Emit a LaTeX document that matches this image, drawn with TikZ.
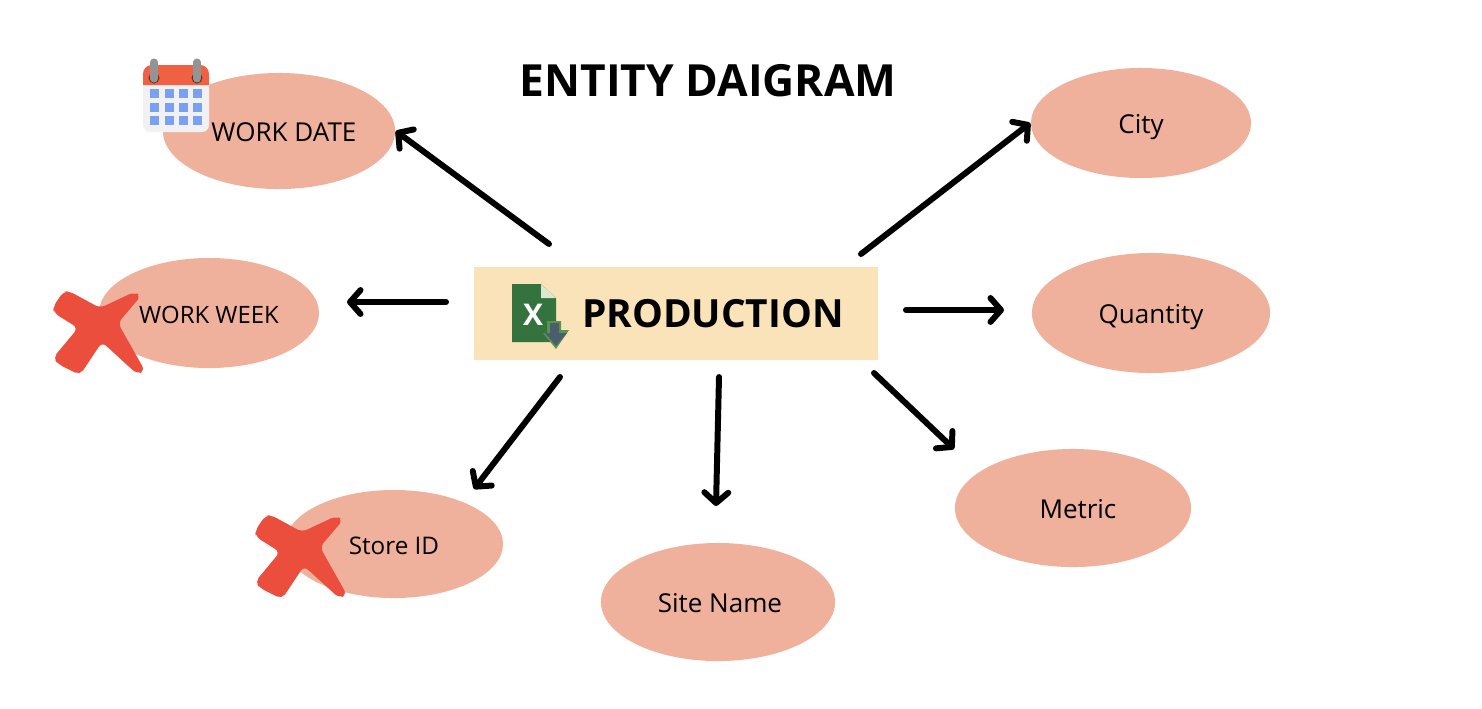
\documentclass[tikz,border=0pt]{standalone}
\usepackage{fontspec}
\setmainfont{Open Sans}
\usepackage{xcolor}
\usepackage{tikz}
\usetikzlibrary{shapes.geometric, arrows.meta}
\definecolor{mysalmon}{RGB}{239,177,155}
\definecolor{mycream}{RGB}{251,227,185}
\definecolor{myred}{RGB}{236,78,62}
\definecolor{calred}{RGB}{240,97,68}
\definecolor{calgrey}{RGB}{241,241,243}
\definecolor{calblue}{RGB}{122,160,240}
\definecolor{xlgreen}{RGB}{53,115,62}
\definecolor{xllight}{RGB}{220,232,205}
\definecolor{xledge}{RGB}{88,150,80}
\definecolor{xlslate}{RGB}{76,94,110}
\tikzset{
  entity/.style={ellipse, fill=mysalmon, inner sep=0pt, text height=5.8pt, text depth=0pt,
    font=\fontsize{7.4}{8.9}\selectfont},
  table/.style={rectangle, fill=mycream, inner sep=0pt, minimum width=4.04cm, minimum height=0.93cm,
    font=\fontsize{11.05}{13.3}\selectfont\bfseries},
  arrow/.style={-{Straight Barb[length=3pt, width=6.8pt, round]}, line width=1.7pt, line cap=round, color=black},
  cross/.pic={
    \fill[myred, rounded corners=1.6pt] (10,0) -- (0,15) -- (1,21) -- (25,36) -- (0,66) -- (5,72) -- (27,83)
      -- (49,50) -- (84,82) -- (92,79) -- (65,31) -- (88,4) -- (81,0) -- (47,16) -- (16,-1) -- cycle;
  }
}

\begin{document}
\begin{tikzpicture}[x=0.01cm, y=-0.01cm]
  \useasboundingbox (0,0) rectangle (1482,708);

  % Blocks
  \node[table] (production) at (676,313.5) {\hspace*{21pt}PRODUCTION};
  \node[entity, minimum width=2.32cm, minimum height=1.16cm] (workdate) at (279,131) {\hspace*{2.8pt}WORK DATE};
  \node[entity, minimum width=2.2cm, minimum height=1.1cm, font=\fontsize{6.8}{8.2}\selectfont] (workweek) at (209,313) {WORK WEEK};
  \node[entity, minimum width=2.18cm, minimum height=1.08cm, font=\fontsize{6.9}{8.3}\selectfont] (storeid) at (394,544) {Store ID};
  \node[entity, minimum width=2.34cm, minimum height=1.18cm] (sitename) at (718,602) {\hspace*{1.1pt}Site Name};
  \node[entity, minimum width=2.36cm, minimum height=1.18cm] (metric) at (1073,508) {\hspace*{2.8pt}Metric};
  \node[entity, minimum width=2.38cm, minimum height=1.2cm] (quantity) at (1151,313) {Quantity};
  \node[entity, minimum width=2.2cm, minimum height=1.1cm] (city) at (1141,123) {City};

  % Title
  \node[font=\fontsize{12.6}{15.1}\selectfont\bfseries] (title) at (708,81) {ENTITY DAIGRAM};

  % Arrow ends
  \coordinate (wdstart) at (549,244);
  \coordinate (wwstart) at (446,302);
  \coordinate (wwend) at (347,302);
  \coordinate (sistart) at (560,377);
  \coordinate (siend) at (474,489);
  \coordinate (snstart) at (719,377);
  \coordinate (snend) at (716,506);
  \coordinate (mestart) at (874,373);
  \coordinate (meend) at (954,449);
  \coordinate (qustart) at (906,310);
  \coordinate (quend) at (1004,310);
  \coordinate (cistart) at (861,254);

  % Connections
  \draw[arrow] (wdstart) -- (workdate.east);
  \draw[arrow] (wwstart) -- (wwend);
  \draw[arrow] (sistart) -- (siend);
  \draw[arrow] (snstart) -- (snend);
  \draw[arrow] (mestart) -- (meend);
  \draw[arrow] (qustart) -- (quend);
  \draw[arrow] (cistart) -- (city.west);

  % Crosses
  \pic at (53,292) {cross};
  \pic at (255,516) {cross};

  % Calendar
  \fill[calgrey, rounded corners=2pt] (143,76) rectangle (209,132);
  \fill[calred] (143,85) [rounded corners=2.5pt] -- (143,65) -- (209,65) [sharp corners] -- (209,85) -- cycle;
  \foreach \x in {154,197} {
    \fill[black!55!calred] (\x,78) circle (5.5);
    \draw[black!42, line width=2pt, line cap=round] (\x,62) -- (\x,79);
  }
  \foreach \x in {154,169,183,197} {
    \foreach \y in {93,107,120} {
      \fill[calblue] (\x-4.5,\y-4.5) rectangle (\x+4.5,\y+4.5);
    }
  }

  % Sheet icon
  \fill[xlgreen] (512,284) -- (541,284) -- (556,298) -- (556,342) -- (512,342) -- cycle;
  \fill[xllight] (541,284) -- (556,298) -- (541,298) -- cycle;
  \node[font=\fontsize{8.5}{10}\selectfont\bfseries, text=white, inner sep=0pt] (sheetx) at (533,315) {X};
  \fill[xledge] (547,321) -- (561,321) -- (561,330) -- (569,330) -- (556,349) -- (543,333) -- (547,333) -- cycle;
  \fill[xlslate] (550,323) -- (559,323) -- (559,333) -- (567,333) -- (556,346) -- (545,333) -- (550,333) -- cycle;
\end{tikzpicture}
\end{document}
